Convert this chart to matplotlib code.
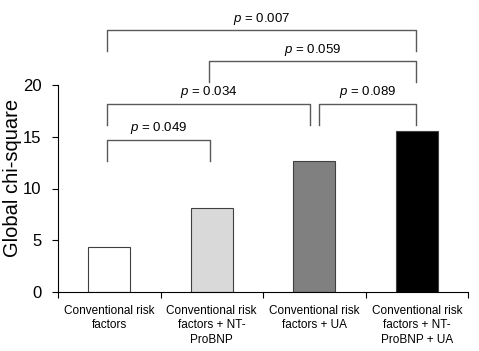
import matplotlib.pyplot as plt
import numpy as np

plt.rcParams['font.family'] = ['Liberation Sans', 'DejaVu Sans']
plt.rcParams['mathtext.fontset'] = 'custom'
plt.rcParams['mathtext.it'] = 'Liberation Sans:italic'
plt.rcParams['mathtext.rm'] = 'Liberation Sans'

categories = ['Conventional risk\nfactors',
              'Conventional risk\nfactors + NT-\nProBNP',
              'Conventional risk\nfactors + UA',
              'Conventional risk\nfactors + NT-\nProBNP + UA']
chi_square = [4.3, 8.1, 12.7, 15.6]
bar_colors = ['white', '#d9d9d9', '#808080', 'black']

# (left bar, right bar, label)
comparisons = [(0, 1, '0.049'),
               (0, 2, '0.034'),
               (2, 3, '0.089'),
               (1, 3, '0.059'),
               (0, 3, '0.007')]
bracket_top = [14.7, 18.2, 18.2, 22.3, 25.3]

fig = plt.figure(figsize=(4.79, 3.51), dpi=100)
ax = fig.add_axes([58 / 479, 1 - 292 / 351, 410 / 479, 207 / 351])

x = np.arange(len(categories))
ax.bar(x, chi_square, width=0.41, color=bar_colors, edgecolor='#404040', linewidth=0.8)

ax.set_xlim(-0.5, 3.5)
ax.set_ylim(0, 20)
ax.set_yticks([0, 5, 10, 15, 20])
ax.tick_params(axis='y', labelsize=12, length=4, width=0.8, pad=8)
ax.set_xticks(x)
ax.set_xticklabels(categories, fontsize=8.5, linespacing=1.3)
ax.tick_params(axis='x', length=0, pad=9)
ax.set_xticks([-0.5, 0.5, 1.5, 2.5, 3.5], minor=True)
ax.tick_params(axis='x', which='minor', length=4, width=0.8)
for side in ['top', 'right']:
    ax.spines[side].set_visible(False)
for side in ['left', 'bottom']:
    ax.spines[side].set_linewidth(0.8)
ax.set_ylabel('Global chi-square', fontsize=14.5)
ax.yaxis.set_label_coords(-0.087, 0.55)

for (a, b, label), top in zip(comparisons, bracket_top):
    xa, xb = a - 0.02, b - 0.02
    if (a, b) == (0, 2):
        xb = 1.96
    if (a, b) == (2, 3):
        xa = 2.05
    if b == 3:
        xb = 2.99
    if a == 1:
        xa = 0.97
    ax.plot([xa, xa, xb, xb], [top - 2.05, top, top, top - 2.05],
            color='#595959', lw=1.0, clip_on=False)
    ax.text((xa + xb) / 2, top + 0.35, r'$\it{p}$ = ' + label,
            ha='center', va='bottom', fontsize=9.5)

fig.savefig('out.png', dpi=100)
